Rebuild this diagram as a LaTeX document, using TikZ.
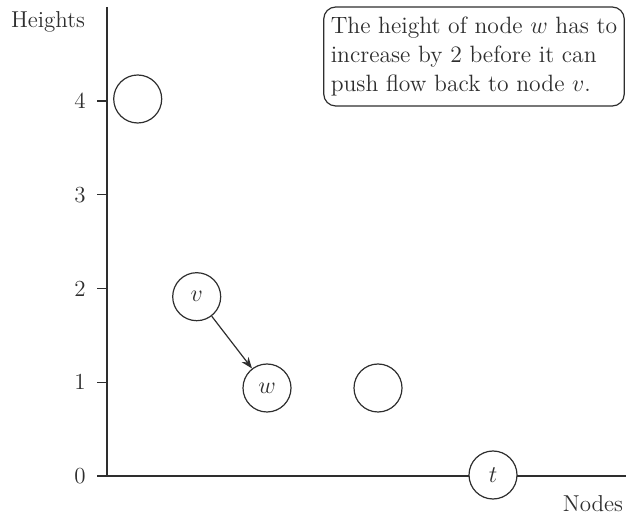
\documentclass[tikz,border=0pt]{standalone}
\usepackage{tikz}
\usetikzlibrary{arrows.meta}
\definecolor{inkgray}{HTML}{2E2E2E}
\tikzset{every node/.append style={font=\fontsize{11.5}{13.5}\selectfont},
  vertex/.style={draw,circle,minimum size=24pt,inner sep=0pt,font=\fontsize{12}{14}\selectfont},
  note/.style={draw,rounded corners=6pt,align=left,minimum width=148pt,minimum height=49.5pt,
    inner xsep=3.5pt,font=\fontsize{11.8}{14.6}\selectfont}}

\begin{document}
\begin{tikzpicture}[>=Stealth,x=0.5pt,y=-0.5pt,line width=0.6pt,inkgray]
\useasboundingbox (0,0) rectangle (626,517);
% axes
\draw (107,7) |- (626,476);
\foreach \h in {0,...,4}
  \draw (107,{476-93.75*\h}) -- (97,{476-93.75*\h}) node[left=2pt] {\h};
\node (ylab) at (48,22) {Heights};
\node (xlab) at (593,504) {Nodes};
% nodes at their heights
\node[vertex] (a) at (137.7,99) {};
\node[vertex] (v) at (196.7,296.7) {$v$};
\node[vertex] (w) at (267,388) {$w$};
\node[vertex] (b) at (378,388) {};
\node[vertex,fill=white] (t) at (493,475) {$t$};
\draw[->] (v) -- (w);
\node[note] (msg) at (474,56.5) {The height of node $w$ has to\\increase by 2 before it can\\push flow back to node $v$.};
\end{tikzpicture}
\end{document}
